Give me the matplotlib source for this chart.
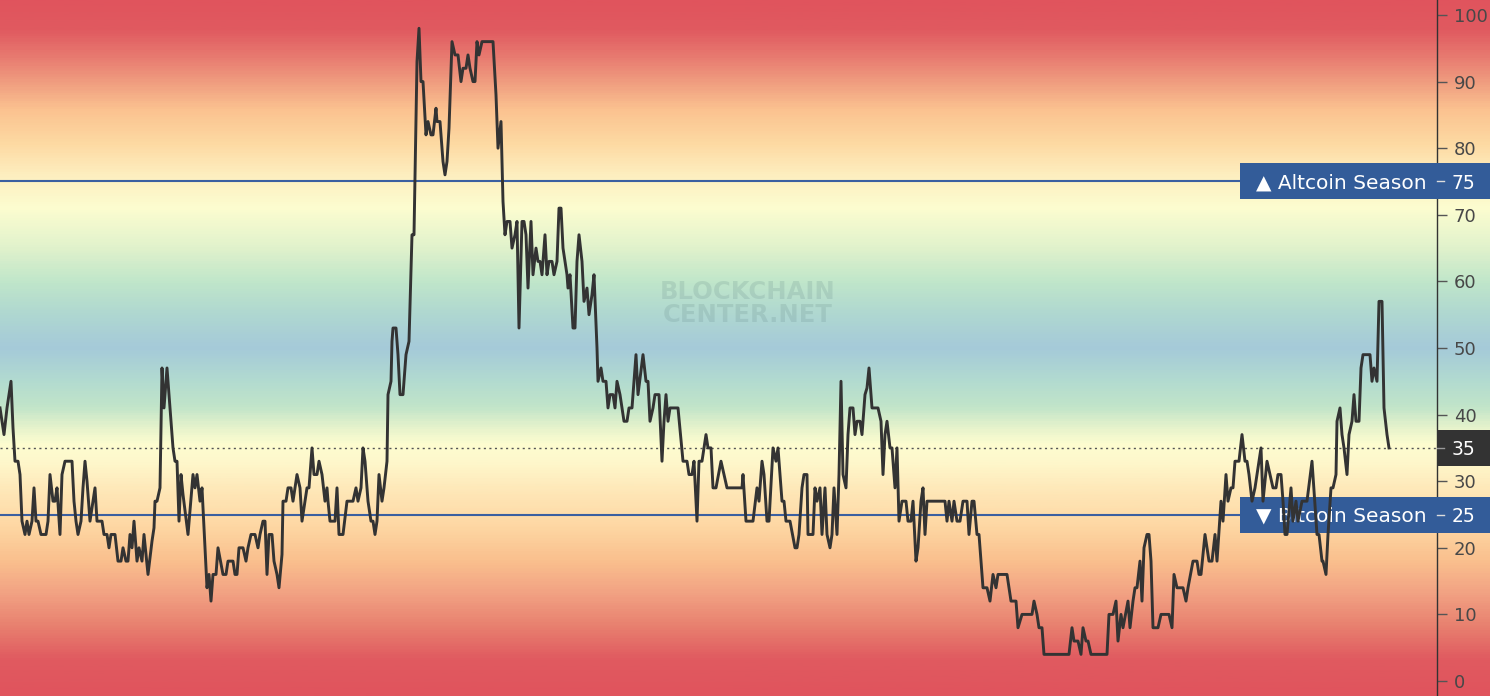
import numpy as np
import matplotlib
matplotlib.use("Agg")
import matplotlib.pyplot as plt
import matplotlib.colors as mcolors
import matplotlib.transforms as mtransforms
from matplotlib.patches import Rectangle
from matplotlib.lines import Line2D

# index readings (x = time step, y = index value)
day = [0, 2, 4, 7, 11, 13, 15, 18, 20, 22, 25, 27, 29, 32, 34, 36, 38, 41, 46, 48,
       50, 53, 55, 57, 60, 62, 65, 72, 74, 76, 78, 81, 83, 85, 87, 90, 93, 95, 97, 102,
       104, 107, 109, 111, 115, 118, 121, 123, 126, 128, 130, 132, 134, 137, 139, 142, 144, 146, 148, 152,
       154, 155, 157, 160, 162, 164, 167, 170, 173, 175, 177, 179, 181, 183, 188, 193, 195, 197, 200, 202,
       207, 209, 211, 213, 216, 218, 223, 226, 228, 233, 235, 237, 239, 243, 246, 248, 251, 255, 258, 260,
       263, 265, 267, 269, 272, 274, 277, 279, 282, 283, 286, 288, 291, 293, 297, 300, 302, 305, 307, 309,
       312, 314, 317, 319, 322, 325, 327, 328, 330, 335, 337, 339, 343, 347, 353, 356, 358, 361, 363, 365,
       368, 371, 373, 375, 377, 379, 382, 384, 387, 388, 391, 392, 393, 396, 398, 400, 403, 406, 409, 412,
       414, 417, 419, 421, 423, 426, 428, 431, 433, 436, 437, 440, 443, 445, 447, 449, 452, 455, 458, 461,
       463, 466, 468, 470, 473, 475, 477, 479, 482, 493, 496, 498, 501, 503, 505, 507, 510, 512, 515, 517,
       519, 522, 524, 526, 528, 531, 533, 536, 538, 540, 542, 545, 547, 549, 552, 554, 557, 559, 561, 563,
       567, 568, 570, 573, 575, 577, 579, 582, 584, 587, 589, 592, 594, 597, 598, 601, 603, 606, 608, 610,
       613, 615, 617, 620, 624, 627, 629, 632, 636, 638, 643, 646, 648, 650, 653, 655, 659, 662, 664, 666,
       668, 670, 678, 683, 687, 689, 692, 694, 697, 699, 702, 706, 708, 711, 713, 716, 721, 727, 742, 743,
       746, 753, 757, 759, 762, 764, 767, 769, 773, 776, 778, 782, 784, 786, 790, 795, 797, 799, 802, 804,
       807, 808, 813, 815, 817, 820, 822, 825, 827, 830, 832, 834, 837, 839, 841, 843, 846, 848, 850, 853,
       855, 857, 860, 862, 865, 867, 869, 872, 878, 881, 883, 885, 887, 890, 892, 895, 897, 899, 902, 906,
       908, 911, 913, 916, 918, 921, 923, 925, 927, 945, 947, 949, 952, 954, 957, 960, 963, 967, 969, 972,
       974, 977, 979, 983, 987, 990, 993, 996, 998, 1007, 1011, 1016, 1018, 1022, 1032, 1034, 1037, 1039, 1042, 1044,
       1069, 1072, 1074, 1078, 1081, 1083, 1086, 1088, 1091, 1107, 1109, 1113, 1116, 1118, 1121, 1123, 1128, 1130, 1133, 1135,
       1137, 1140, 1142, 1144, 1147, 1149, 1151, 1153, 1158, 1161, 1169, 1172, 1174, 1177, 1183, 1186, 1188, 1193, 1197, 1199,
       1201, 1205, 1209, 1212, 1215, 1217, 1221, 1223, 1226, 1228, 1231, 1233, 1235, 1239, 1242, 1245, 1247, 1249, 1252, 1255,
       1257, 1261, 1263, 1267, 1270, 1273, 1276, 1278, 1281, 1283, 1285, 1287, 1291, 1293, 1296, 1298, 1302, 1307, 1312, 1317,
       1319, 1322, 1323, 1326, 1328, 1331, 1333, 1336, 1337, 1340, 1342, 1344, 1347, 1349, 1352, 1354, 1356, 1359, 1361, 1363,
       1370, 1372, 1374, 1377, 1379, 1382, 1384, 1387, 1389]

index_value = [41, 39, 37, 41, 45, 38, 33, 33, 31, 24, 22, 24, 22, 24, 29, 24, 24, 22, 22, 24,
               31, 27, 27, 29, 22, 31, 33, 33, 27, 24, 22, 24, 29, 33, 30, 24, 27, 29, 24, 24,
               22, 22, 20, 22, 22, 18, 18, 20, 18, 18, 22, 20, 24, 18, 20, 18, 22, 19, 16, 21,
               23, 27, 27, 29, 47, 41, 47, 41, 35, 33, 33, 24, 31, 28, 22, 31, 29, 31, 27, 29,
               14, 16, 12, 16, 16, 20, 16, 16, 18, 18, 16, 16, 20, 20, 18, 20, 22, 22, 20, 22,
               24, 24, 16, 22, 22, 18, 16, 14, 19, 27, 27, 29, 29, 27, 31, 29, 24, 27, 29, 29,
               35, 31, 31, 33, 31, 27, 29, 27, 24, 24, 29, 22, 22, 27, 27, 29, 27, 29, 35, 33,
               27, 24, 24, 22, 24, 31, 27, 29, 33, 43, 45, 51, 53, 53, 49, 43, 43, 49, 51, 67,
               67, 93, 98, 90, 90, 82, 84, 82, 82, 86, 84, 84, 78, 76, 78, 83, 96, 94, 94, 90,
               92, 92, 94, 92, 90, 90, 96, 94, 96, 96, 88, 80, 84, 72, 67, 69, 69, 65, 67, 69,
               53, 69, 69, 67, 59, 69, 61, 65, 63, 63, 61, 67, 61, 63, 63, 61, 63, 71, 71, 65,
               61, 59, 61, 53, 53, 63, 67, 63, 57, 59, 55, 58, 61, 50, 45, 47, 45, 45, 41, 43,
               43, 41, 45, 43, 39, 39, 41, 41, 49, 43, 49, 45, 45, 39, 41, 43, 43, 33, 39, 43,
               39, 41, 41, 33, 33, 31, 31, 33, 24, 33, 33, 37, 35, 35, 29, 29, 33, 29, 29, 31,
               24, 24, 29, 27, 33, 31, 24, 24, 35, 33, 35, 27, 27, 24, 24, 20, 20, 22, 29, 31,
               31, 22, 22, 29, 27, 29, 22, 29, 22, 20, 22, 29, 22, 31, 45, 31, 29, 37, 41, 41,
               37, 39, 39, 37, 43, 44, 47, 41, 41, 39, 31, 37, 39, 35, 35, 29, 35, 24, 27, 27,
               24, 24, 27, 18, 20, 27, 29, 22, 27, 27, 24, 27, 24, 27, 24, 24, 27, 27, 22, 27,
               27, 22, 22, 14, 14, 12, 16, 14, 16, 16, 12, 12, 8, 10, 10, 12, 10, 8, 8, 4,
               4, 8, 6, 6, 4, 8, 6, 6, 4, 4, 10, 10, 12, 6, 10, 8, 12, 8, 12, 14,
               14, 18, 12, 20, 22, 22, 18, 8, 8, 10, 10, 8, 16, 14, 14, 12, 14, 18, 18, 16,
               16, 22, 18, 18, 22, 18, 27, 24, 31, 27, 29, 29, 33, 33, 37, 33, 33, 31, 27, 29,
               31, 35, 27, 33, 31, 29, 29, 31, 31, 27, 22, 22, 29, 24, 27, 24, 27, 27, 33, 22,
               22, 18, 18, 16, 22, 29, 29, 31, 39, 41, 37, 35, 31, 37, 39, 43, 39, 39, 47, 49,
               49, 45, 47, 45, 57, 57, 41, 37, 35]

yticks = list(range(0, 101, 10))
altcoin_level = 75
bitcoin_level = 25
current_value = 35

# background colour stops (value, colour)
bg_stops = [(-2.25, "#e0545d"), (3, "#e05a60"), (8, "#e8806f"), (13, "#f2a283"),
            (18, "#fac08e"), (23, "#fed7a3"), (28, "#fee6b6"), (33, "#fef8cc"),
            (35.5, "#fdfdd0"), (38, "#e6f3cc"), (41, "#c2e5c9"), (45, "#b2dbd0"),
            (50, "#a5cad9"), (55, "#afd7d1"), (60, "#c0e6ca"), (65, "#e0f2cc"),
            (71, "#fcfdd0"), (76, "#feefc0"), (81, "#fdd9a2"), (86, "#fbc290"),
            (90, "#f09e80"), (94, "#e87a70"), (98, "#e05a60"), (102.25, "#e0545d")]

ymin, ymax = -2.25, 102.25
W, H = 1490, 696
ax_w = 1437

fig = plt.figure(figsize=(W / 100, H / 100), dpi=100)

# gradient behind everything
bg = fig.add_axes([0, 0, 1, 1], zorder=-1)
pos = [(v - ymin) / (ymax - ymin) for v, c in bg_stops]
cmap = mcolors.LinearSegmentedColormap.from_list("season", list(zip(pos, [c for v, c in bg_stops])))
grad = np.linspace(ymax, ymin, 600).reshape(-1, 1)
bg.imshow(grad, cmap=cmap, vmin=ymin, vmax=ymax, aspect="auto",
          extent=(0, 1, ymin, ymax), origin="upper")
bg.set_xlim(0, 1)
bg.set_ylim(ymin, ymax)
bg.axis("off")

ax = fig.add_axes([0, 0, ax_w / W, 1])
ax.set_facecolor("none")
ax.set_xlim(0, ax_w)
ax.set_ylim(ymin, ymax)

for s in ["left", "top", "bottom"]:
    ax.spines[s].set_visible(False)
ax.spines["right"].set_color("#333333")
ax.spines["right"].set_linewidth(1)

ax.set_xticks([])
ax.yaxis.tick_right()
ax.set_yticks(yticks)
ax.tick_params(axis="y", length=7, width=1, colors="#555555", labelcolor="#484848",
               labelsize=13, pad=5)

# reference lines
ax.axhline(altcoin_level, color="#3b5fa0", lw=1.5, zorder=2)
ax.axhline(bitcoin_level, color="#3b5fa0", lw=1.5, zorder=2)
ax.axhline(current_value, color="#555555", lw=1, ls=(0, (1.5, 2.5)), zorder=2)

# watermark
ax.text(748, 56.7, "BLOCKCHAIN\nCENTER.NET", ha="center", va="center", fontsize=17.5,
        fontweight="bold", color="#5c7f80", alpha=0.18, linespacing=0.95, zorder=1)

# index line
ax.plot(day, index_value, color="#333333", lw=2.1, zorder=5)

# season boxes on the right
trans = mtransforms.blended_transform_factory(ax.transAxes, ax.transData)
box_h = 36 / (H / (ymax - ymin))
label_x = 1452 / ax_w
for level, label in [(altcoin_level, "▲ Altcoin Season"), (bitcoin_level, "▼ Bitcoin Season")]:
    ax.add_patch(Rectangle((1240 / ax_w, level - box_h / 2), (W - 1240) / ax_w, box_h,
                           transform=trans, facecolor="#335c99", edgecolor="none",
                           clip_on=False, zorder=3))
    ax.text(1256 / ax_w, level, label, transform=trans, ha="left", va="center_baseline",
            color="white", fontsize=14.5, clip_on=False, zorder=4)
    ax.add_line(Line2D([1.0, 1.0 + 7 / ax_w], [level, level], transform=trans,
                       color="#dddddd", lw=1, clip_on=False, zorder=4))
    ax.text(label_x, level, str(level), transform=trans, ha="left", va="center_baseline",
            color="white", fontsize=13.5, clip_on=False, zorder=4)

# current value box
ax.add_patch(Rectangle((1.0, current_value - box_h / 2), (W - ax_w) / ax_w, box_h,
                       transform=trans, facecolor="#333333", edgecolor="none",
                       clip_on=False, zorder=3))
ax.add_line(Line2D([1.0, 1.0 + 7 / ax_w], [current_value, current_value], transform=trans,
                   color="#999999", lw=1, clip_on=False, zorder=4))
ax.text(label_x, current_value, str(current_value), transform=trans, ha="left",
        va="center_baseline", color="white", fontsize=13.5, clip_on=False, zorder=4)

fig.savefig("out.png", dpi=100)
